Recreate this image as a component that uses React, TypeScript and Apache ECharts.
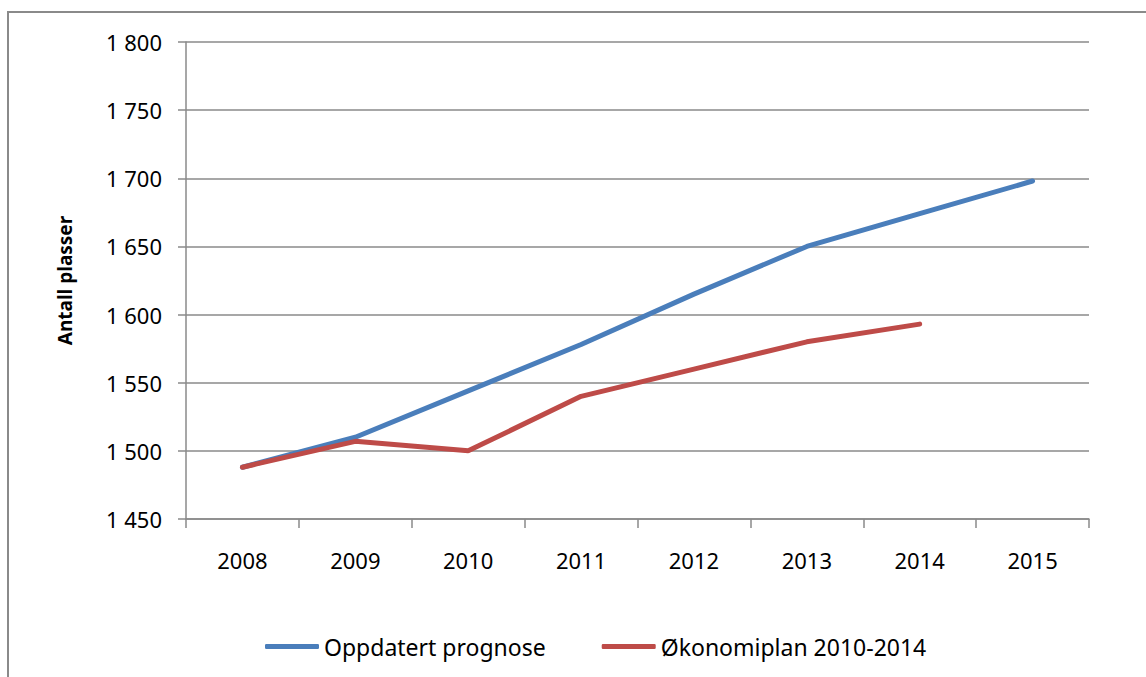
import React, { useEffect, useRef } from "react";
import * as echarts from "echarts";

const years = ["2008", "2009", "2010", "2011", "2012", "2013", "2014", "2015"];
const prognose = [1488, 1510, 1544, 1578, 1615, 1650, 1674, 1698];
const okonomiplan = [1488, 1507, 1500, 1540, 1560, 1580, 1593, null];
const seriesNames = ["Oppdatert prognose", "Økonomiplan 2010-2014"];
const yAxisName = "Antall plasser";

const FONT = "'Noto Sans', sans-serif";

export default function App() {
  const ref = useRef<HTMLDivElement>(null);
  useEffect(() => {
    if (!ref.current) return;
    const chart = echarts.init(ref.current, undefined, { renderer: "svg" });
    chart.setOption({
      animation: false,
      backgroundColor: "#ffffff",
      graphic: [
        {
          type: "rect",
          shape: { x: 8, y: 12, width: 1300, height: 800 },
          style: { fill: "none", stroke: "#8a8a8a", lineWidth: 2 },
          silent: true,
        },
      ],
      grid: { left: 186, right: 57, top: 42, bottom: 158 },
      legend: {
        left: 260,
        top: 630,
        itemWidth: 54,
        itemHeight: 5,
        itemGap: 56,
        icon: "roundRect",
        textStyle: { fontFamily: FONT, fontSize: 23, color: "#000" },
        data: seriesNames,
      },
      xAxis: {
        type: "category",
        data: years,
        boundaryGap: true,
        axisLine: { lineStyle: { color: "#8a8a8a", width: 1.5 } },
        axisTick: { show: true, length: 9, lineStyle: { color: "#8a8a8a", width: 1.5 } },
        axisLabel: { margin: 30, fontFamily: FONT, fontSize: 22, color: "#000" },
      },
      yAxis: {
        type: "value",
        min: 1450,
        max: 1800,
        interval: 50,
        name: yAxisName,
        nameLocation: "middle",
        nameGap: 112,
        nameTextStyle: { fontFamily: FONT, fontSize: 19, fontWeight: "bold", color: "#000" },
        axisLine: { show: true, lineStyle: { color: "#8a8a8a", width: 1.5 } },
        axisTick: { show: true, length: 8, lineStyle: { color: "#8a8a8a", width: 1.5 } },
        splitLine: { show: true, lineStyle: { color: "#8a8a8a", width: 1.5 } },
        axisLabel: {
          margin: 24,
          fontFamily: FONT,
          fontSize: 22,
          color: "#000",
          formatter: (v: number) => String(v).replace(/\B(?=(\d{3})+(?!\d))/g, " "),
        },
      },
      series: [
        {
          name: seriesNames[0],
          type: "line",
          data: prognose,
          symbol: "none",
          lineStyle: { color: "#4a7ebb", width: 5, cap: "round" },
          itemStyle: { color: "#4a7ebb" },
        },
        {
          name: seriesNames[1],
          type: "line",
          data: okonomiplan,
          symbol: "none",
          lineStyle: { color: "#be4b48", width: 5, cap: "round" },
          itemStyle: { color: "#be4b48" },
        },
      ],
    });
    return () => chart.dispose();
  }, []);
  return (
    <div
      ref={ref}
      style={{ position: "fixed", left: 0, top: 0, width: 1146, height: 677 }}
    />
  );
}
